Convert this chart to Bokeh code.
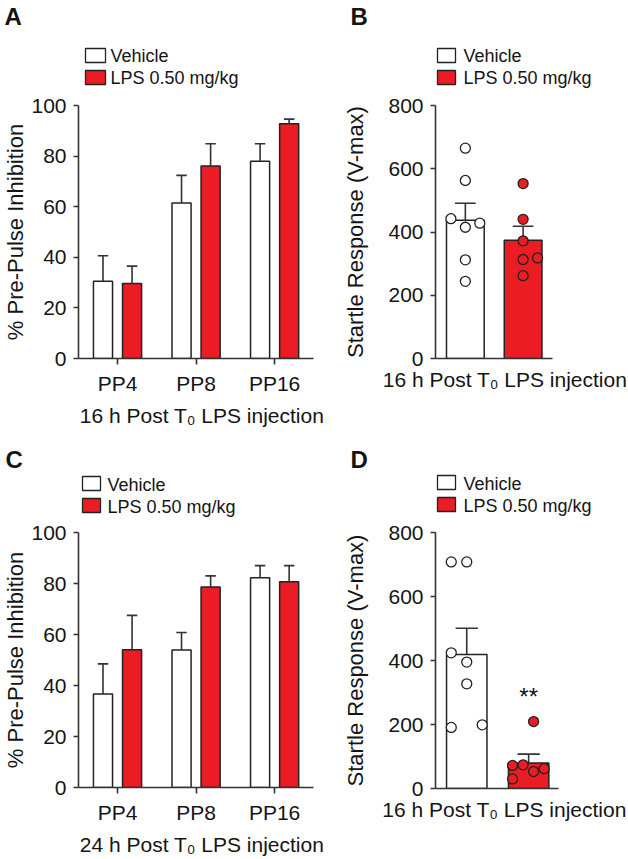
from bokeh.plotting import figure
from bokeh.models import Range1d, FixedTicker, Label
from bokeh.layouts import column, row
from bokeh.embed import file_html
from bokeh.resources import INLINE
from bokeh.core.properties import value

# ---------------- data ----------------
pp_categories = ["PP4", "PP8", "PP16"]
ppi_ticks = [0, 20, 40, 60, 80, 100]
startle_ticks = [0, 200, 400, 600, 800]
series_names = ["Vehicle", "LPS 0.50 mg/kg"]

a_vehicle_mean = [30.5, 61.5, 78.0]
a_vehicle_sem = [10.1, 10.9, 6.9]
a_lps_mean = [29.6, 76.1, 92.8]
a_lps_sem = [6.9, 8.8, 1.8]

c_vehicle_mean = [36.7, 53.9, 82.3]
c_vehicle_sem = [11.8, 6.9, 4.7]
c_lps_mean = [54.0, 78.6, 80.7]
c_lps_sem = [13.5, 4.4, 6.3]

b_vehicle_mean, b_vehicle_sem = 437, 54
b_lps_mean, b_lps_sem = 374, 44
b_vehicle_points = [665, 563, 442, 415, 428, 312, 244]
b_vehicle_jitter = [0, 0, -0.25, 0, 0.25, 0, 0]
b_lps_points = [553, 440, 372, 313, 318, 262]
b_lps_jitter = [0, 0, 0, 0, 0.25, 0]

d_vehicle_mean, d_vehicle_sem = 419, 82
d_lps_mean, d_lps_sem = 79.5, 28
d_vehicle_points = [708, 708, 424, 395, 327, 191, 199]
d_vehicle_jitter = [-0.25, 0, -0.25, 0, 0, -0.25, 0.25]
d_lps_points = [209, 72, 74, 53, 62, 30]
d_lps_jitter = [0.08, -0.26, -0.09, 0.08, 0.25, -0.26]
d_significance = "**"

ppi_label = "% Pre-Pulse Inhibition"
startle_label = "Startle Response (V-max)"
xlabel_16 = "16 h Post T\u2080 LPS injection"
xlabel_24 = "24 h Post T\u2080 LPS injection"

# ---------------- style ----------------
FONT = "Liberation Sans"
RED = "#EC1C24"
INK = "#141414"
AXIS = "#333333"
EDGE = "#222222"

# page-pixel geometry: main figure box, frame box, x mapping, px where x axis ends
geom = {
    "A": dict(fig=(0, 90, 340, 340), frame=(75, 325, 105, 358), x0_px=114.5, dx_px=79.5, axis_end=313),
    "B": dict(fig=(340, 90, 288, 340), frame=(432, 574, 105, 358), x0_px=462.5, dx_px=59.0, axis_end=552),
    "C": dict(fig=(0, 518, 340, 341), frame=(75, 325, 532, 787), x0_px=114.5, dx_px=79.5, axis_end=313),
    "D": dict(fig=(340, 518, 288, 341), frame=(433, 573, 532, 788), x0_px=464.7, dx_px=62.8, axis_end=558),
}
headers = {
    "A": (0, 0, 340, 90), "B": (340, 0, 288, 90),
    "C": (0, 430, 340, 88), "D": (340, 430, 288, 88),
}


def no_align(p):
    if "frame_align" in p.properties():
        p.frame_align = False


def style_axis(ax):
    ax.axis_line_color = AXIS
    ax.axis_line_width = 1.6
    ax.major_tick_line_color = AXIS
    ax.major_tick_line_width = 1.6
    ax.minor_tick_line_color = None
    ax.major_tick_in = 0
    ax.major_label_text_font = FONT
    ax.major_label_text_font_size = "21px"
    ax.major_label_text_color = INK
    ax.axis_label_text_font = FONT
    ax.axis_label_text_font_style = "normal"
    ax.axis_label_text_color = INK


def main_fig(key, ticks, ylabel, xlabel, ylabel_standoff, xlabel_standoff):
    g = geom[key]
    fx, fy, fw, fh = g["fig"]
    l, r, t, b = g["frame"]
    x0 = (l - g["x0_px"]) / g["dx_px"]
    x1 = (r - g["x0_px"]) / g["dx_px"]
    xend = (g["axis_end"] - g["x0_px"]) / g["dx_px"]
    p = figure(width=fw, height=fh,
               x_range=Range1d(x0, x1), y_range=Range1d(ticks[0], ticks[-1]),
               min_border_left=l - fx, min_border_right=fx + fw - r,
               min_border_top=t - fy, min_border_bottom=fy + fh - b,
               output_backend="svg", toolbar_location=None)
    no_align(p)
    p.outline_line_color = None
    p.xgrid.visible = False
    p.ygrid.visible = False
    p.background_fill_color = "white"
    p.border_fill_color = "white"
    xa, ya = p.xaxis[0], p.yaxis[0]
    style_axis(xa)
    style_axis(ya)
    ya.ticker = FixedTicker(ticks=ticks)
    ya.bounds = (ticks[0], ticks[-1])
    ya.major_tick_out = 5
    ya.major_label_standoff = 7
    ya.axis_label = ylabel
    ya.axis_label_text_font_size = "22px"
    ya.axis_label_standoff = ylabel_standoff
    xa.bounds = (x0, xend)
    xa.axis_label = xlabel
    xa.axis_label_text_font_size = "21px"
    xa.axis_label_standoff = xlabel_standoff
    return p


def header_fig(key, letter, letter_xy, box_l, box_w, box_tops, box_h, text_x, text_mid):
    hx, hy, hw, hh = headers[key]
    p = figure(width=hw, height=hh, x_range=Range1d(hx, hx + hw), y_range=Range1d(hy + hh, hy),
               x_axis_type=None, y_axis_type=None,
               min_border_left=0, min_border_right=0, min_border_top=0, min_border_bottom=0,
               output_backend="svg", toolbar_location=None)
    no_align(p)
    p.outline_line_color = None
    p.grid.visible = False
    p.text(x=[letter_xy[0]], y=[letter_xy[1]], text=[letter], text_font=value(FONT),
           text_font_size=value("24px"), text_font_style="bold", text_color=INK,
           text_align="left", text_baseline="middle")
    fills = ["white", RED]
    p.quad(left=[box_l] * 2, right=[box_l + box_w] * 2,
           top=box_tops, bottom=[t + box_h for t in box_tops],
           fill_color=fills, line_color=EDGE, line_width=1.3)
    p.text(x=[text_x] * 2, y=text_mid, text=series_names, text_font=value(FONT),
           text_font_size=value("18px"), text_color=INK,
           text_align="left", text_baseline="middle")
    return p


def bars_with_sem(p, xs, means, sems, width, fill):
    p.vbar(x=xs, top=means, bottom=0, width=width, fill_color=fill,
           line_color=EDGE, line_width=1.5)
    tops = [m + s for m, s in zip(means, sems)]
    cap = 0.55 * width
    p.segment(x0=xs, y0=means, x1=xs, y1=tops, line_color=AXIS, line_width=1.6)
    p.segment(x0=[x - cap / 2 for x in xs], y0=tops, x1=[x + cap / 2 for x in xs], y1=tops,
              line_color=AXIS, line_width=1.6)


def ppi_panel(key, veh_mean, veh_sem, lps_mean, lps_sem, xlabel):
    p = main_fig(key, ppi_ticks, ppi_label, xlabel, 0, 6)
    idx = list(range(len(pp_categories)))
    dodge, bw = 0.185, 0.243
    bars_with_sem(p, [i - dodge for i in idx], veh_mean, veh_sem, bw, "white")
    bars_with_sem(p, [i + dodge for i in idx], lps_mean, lps_sem, bw, RED)
    xa = p.xaxis[0]
    xa.ticker = FixedTicker(ticks=idx)
    xa.major_label_overrides = {i: c for i, c in zip(idx, pp_categories)}
    xa.major_tick_out = 6
    xa.major_label_standoff = 7
    return p


def startle_panel(key, veh_mean, veh_sem, lps_mean, lps_sem, veh_pts, veh_jit, lps_pts, lps_jit):
    p = main_fig(key, startle_ticks, startle_label, xlabel_16, 17, 9)
    bw = 0.653
    bars_with_sem(p, [0], [veh_mean], [veh_sem], bw, "white")
    bars_with_sem(p, [1], [lps_mean], [lps_sem], bw, RED)
    p.scatter(x=[0 + j for j in veh_jit], y=veh_pts, size=10, marker="circle",
              fill_color="white", line_color=EDGE, line_width=1.3)
    p.scatter(x=[1 + j for j in lps_jit], y=lps_pts, size=10, marker="circle",
              fill_color=RED, line_color=EDGE, line_width=1.3)
    xa = p.xaxis[0]
    xa.ticker = FixedTicker(ticks=[])
    xa.major_tick_out = 0
    xa.major_label_standoff = 0
    return p


hA = header_fig("A", "A", (4, 16), 85, 20, [48, 70], 14, 110, [55.5, 77.5])
hB = header_fig("B", "B", (350, 16), 437, 18, [48, 70], 14, 463, [55.5, 77.5])
hC = header_fig("C", "C", (5, 458.5), 82, 18, [476, 498], 14, 107, [484, 506])
hD = header_fig("D", "D", (350, 458.5), 437, 18, [475, 497], 14, 463, [483, 505])

pA = ppi_panel("A", a_vehicle_mean, a_vehicle_sem, a_lps_mean, a_lps_sem, xlabel_16)
pC = ppi_panel("C", c_vehicle_mean, c_vehicle_sem, c_lps_mean, c_lps_sem, xlabel_24)
pB = startle_panel("B", b_vehicle_mean, b_vehicle_sem, b_lps_mean, b_lps_sem,
                   b_vehicle_points, b_vehicle_jitter, b_lps_points, b_lps_jitter)
pD = startle_panel("D", d_vehicle_mean, d_vehicle_sem, d_lps_mean, d_lps_sem,
                   d_vehicle_points, d_vehicle_jitter, d_lps_points, d_lps_jitter)
pD.add_layout(Label(x=1, y=286, text=d_significance, text_font=FONT, text_font_size="24px",
                    text_color=INK, text_align="center", text_baseline="middle"))

layout = column(row(column(hA, pA), column(hB, pB)),
                row(column(hC, pC), column(hD, pD)))
open("out.html", "w").write(file_html(layout, INLINE))
